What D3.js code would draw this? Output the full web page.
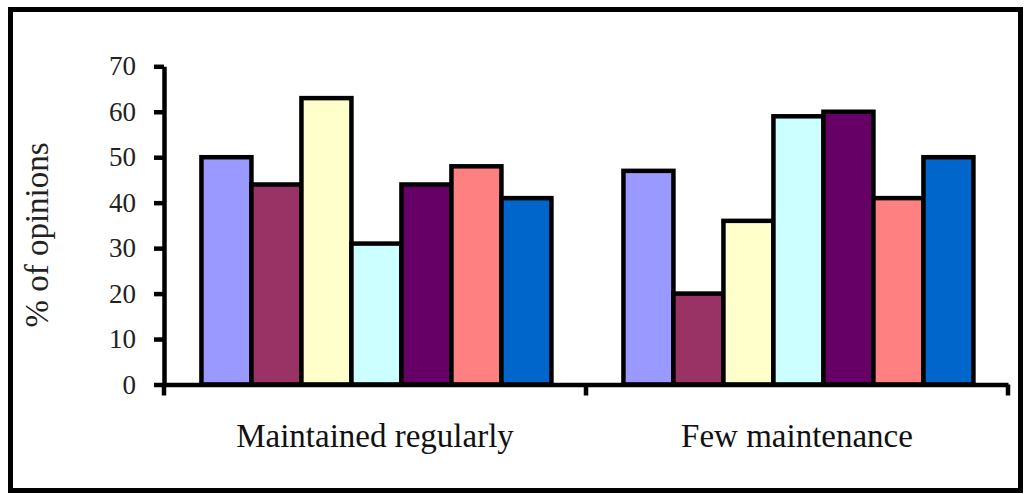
<!DOCTYPE html>
<html>
<head>
<meta charset="utf-8">
<script src="https://cdn.jsdelivr.net/npm/d3@7"></script>
<style>
  html, body { margin: 0; padding: 0; background: #fff; }
  svg { display: block; }
</style>
</head>
<body>
<svg id="chart" width="1026" height="494"></svg>
<script>
// Survey categories along the x axis
const categories = ["Maintained regularly", "Few maintenance"];

// Seven response groups, one value per category (% of opinions)
const seriesNames = ["S1", "S2", "S3", "S4", "S5", "S6", "S7"];
const series1 = [50, 47];
const series2 = [44, 20];
const series3 = [63, 36];
const series4 = [31, 59];
const series5 = [44, 60];
const series6 = [48, 41];
const series7 = [41, 50];
const seriesValues = [series1, series2, series3, series4, series5, series6, series7];
const seriesColors = ["#9999FF", "#993366", "#FFFFCC", "#CCFFFF", "#660066", "#FF8080", "#0066CC"];

// Y axis ticks
const yTicks = [0, 10, 20, 30, 40, 50, 60, 70];

const serif = "'Liberation Serif', 'Times New Roman', serif";
const svg = d3.select("#chart");

// Outer frame
svg.append("rect")
  .attr("x", 10.5).attr("y", 9.5)
  .attr("width", 1010).attr("height", 481)
  .attr("fill", "#fff")
  .attr("stroke", "#000")
  .attr("stroke-width", 5);

const plotLeft = 164, plotRight = 1008, plotTop = 66.3, plotBottom = 384.5;

const y = d3.scaleLinear().domain([0, 70]).range([plotBottom, plotTop]);
const x0 = d3.scaleBand().domain(categories).range([plotLeft, plotRight]).paddingInner(0).paddingOuter(0);
const x1 = d3.scaleBand().domain(seriesNames).range([0, x0.bandwidth()])
  .paddingInner(0).paddingOuter(0.72).align(0.52);

// Bars
const groups = svg.append("g").selectAll("g")
  .data(categories)
  .join("g")
  .attr("transform", d => `translate(${x0(d)},0)`);

groups.selectAll("rect")
  .data((cat, ci) => seriesNames.map((s, si) => ({ s, v: seriesValues[si][ci], c: seriesColors[si] })))
  .join("rect")
  .attr("x", d => x1(d.s))
  .attr("y", d => y(d.v))
  .attr("width", x1.bandwidth())
  .attr("height", d => y(0) - y(d.v))
  .attr("fill", d => d.c)
  .attr("stroke", "#000")
  .attr("stroke-width", 4.5);

// Y axis
const yAxis = svg.append("g")
  .attr("transform", `translate(${plotLeft},0)`)
  .call(d3.axisLeft(y).tickValues(yTicks).tickSize(10).tickPadding(18).tickSizeOuter(0));
yAxis.select(".domain").attr("stroke-width", 4.5);
yAxis.selectAll(".tick line").attr("stroke-width", 4.5);
yAxis.selectAll(".tick text")
  .attr("font-family", serif)
  .attr("font-size", 27)
  .attr("fill", "#222");

// X axis
const xAxis = svg.append("g")
  .attr("transform", `translate(0,${plotBottom})`)
  .call(d3.axisBottom(x0).tickSize(0).tickPadding(39).tickSizeOuter(0));
xAxis.select(".domain").attr("stroke-width", 4.5);
xAxis.selectAll(".tick text")
  .attr("font-family", serif)
  .attr("font-size", 33)
  .attr("fill", "#111");

// Category separator ticks on the x axis
const boundaries = [plotLeft, ...categories.map(c => x0(c) + x0.bandwidth())];
xAxis.selectAll("line.sep")
  .data(boundaries)
  .join("line")
  .attr("class", "sep")
  .attr("x1", d => d).attr("x2", d => d)
  .attr("y1", 0).attr("y2", 11)
  .attr("stroke", "#000")
  .attr("stroke-width", 4.5);

// Y axis title
svg.append("text")
  .attr("transform", `translate(48,235) rotate(-90)`)
  .attr("text-anchor", "middle")
  .attr("font-family", serif)
  .attr("font-size", 33)
  .attr("fill", "#222")
  .text("% of opinions");
</script>
</body>
</html>
